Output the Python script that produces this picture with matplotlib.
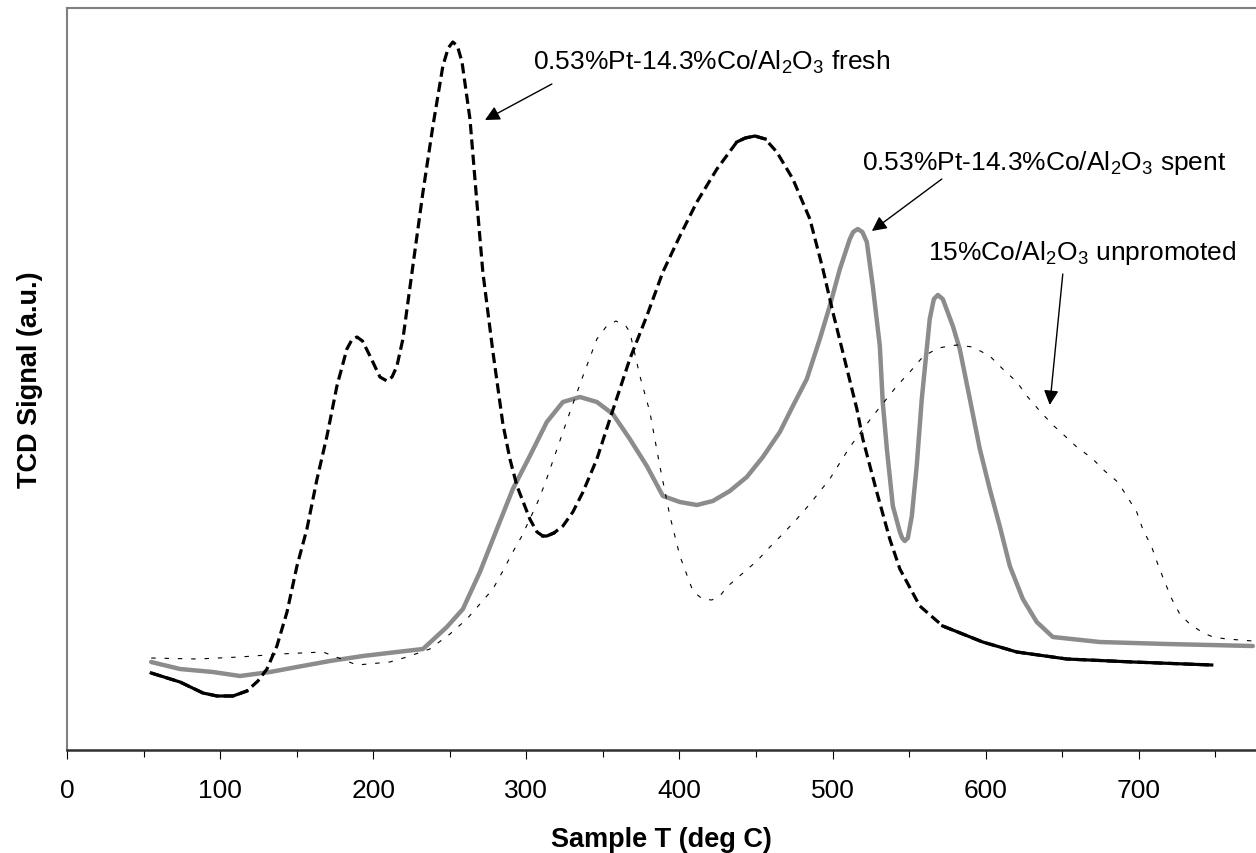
import numpy as np
import matplotlib
matplotlib.use("Agg")
import matplotlib.pyplot as plt
from matplotlib.ticker import MultipleLocator

plt.rcParams['font.family'] = ['Liberation Sans', 'DejaVu Sans']
plt.rcParams['mathtext.fontset'] = 'custom'
plt.rcParams['mathtext.rm'] = 'Liberation Sans'
plt.rcParams['mathtext.it'] = 'Liberation Sans:italic'
plt.rcParams['mathtext.bf'] = 'Liberation Sans:bold'

# ---- data (T in deg C, TCD signal in arbitrary units) ----
fresh_T = [55, 73.8, 88.8, 98, 108.4, 117.5, 124.7, 130.6, 137.1, 143.7, 150.2, 156.7,
           163.3, 169.8, 176.3, 182.8, 186, 189.4, 193, 197.9, 204.4, 209, 212.3,
           215.5, 219.4, 225.9, 232.5, 239, 245.5, 249, 252, 255, 258, 263.2, 267.7,
           271.6, 278.2, 284.7, 289.3, 293.9, 302.3, 307, 310.8, 313.4, 318, 323.9,
           330.4, 337, 346.1, 354.6, 367.6, 378.7, 389.2, 400.3, 411.4, 424.5,
           437.5, 443, 449.3, 456, 463.6, 474.1, 485.2, 493.7, 500.2, 506.7, 515.9,
           519.8, 528.9, 537.4, 544, 557, 572, 598.1, 620.4, 653, 696.1, 747.7]
fresh_S = [77, 68, 57, 54, 54, 59, 69, 81, 104, 138, 184, 221,
           271, 314, 364, 401, 410, 413, 409, 394, 373, 369, 373,
           384, 411, 484, 558, 624, 684, 702, 708, 704, 688, 631, 548,
           478, 398, 326, 291, 264, 231, 218, 214, 214, 217, 224,
           238, 258, 291, 331, 391, 434, 478, 514, 548, 581,
           608, 612, 614, 611, 598, 571, 531, 481, 438, 398, 341,
           311, 258, 211, 181, 144, 124, 108, 98, 91, 88, 85]

spent_T = [55, 73.8, 95.3, 113, 132.6, 150.2, 171.7, 193.3, 215.5, 232.5, 248.1,
           258.6, 269.7, 280.8, 291.2, 302.3, 313.4, 323.9, 335, 346.1, 356.5,
           367.6, 378.7, 389.2, 400.3, 411.4, 421.8, 432.9, 444, 454.5, 465.6,
           474.1, 483.2, 491.7, 498.2, 504.8, 511.3, 513.5, 516.5, 519.5, 522.4,
           526.3, 530.9, 532.8, 535.5, 539.4, 544, 545.5, 547.2, 549.2, 551.8,
           555, 558.3, 563.5, 566.2, 568.8, 572, 578.6, 583.1, 589.7, 596.2,
           602.7, 609.2, 615.8, 624.3, 633.4, 643.9, 674.5, 718.3, 774.5]
spent_S = [88, 81, 78, 74, 78, 83, 89, 94, 98, 101, 123,
           141, 178, 221, 261, 294, 328, 348, 353, 348, 336,
           311, 284, 254, 248, 245, 249, 259, 273, 293, 318,
           344, 371, 411, 444, 481, 511, 518, 521, 518, 508,
           464, 404, 348, 301, 244, 218, 212, 209, 212, 234,
           284, 351, 431, 451, 455, 451, 424, 401, 351, 301,
           261, 224, 184, 151, 128, 113, 108, 106, 104]

unpro_T = [55, 84.9, 113, 139.1, 167.2, 189.4, 210.9, 222, 237, 250.1, 261.2,
           269.7, 278.2, 284.7, 291.2, 297.1, 302.3, 306.9, 312.1, 328.5, 337,
           346.1, 352, 358.5, 365, 367.6, 374.2, 380.7, 387.2, 393.8, 400.3, 408.8,
           415, 421.2, 427, 431, 440.8, 450.6, 459.1, 467.5, 476.7, 485.2, 498.2, 511.3,
           526.3, 534.2, 542, 550.5, 558.9, 568.8, 581.2, 591.6, 602.7, 611.2,
           620.4, 627.5, 635.4, 643.9, 650.4, 659.5, 669.3, 677.8, 686.3, 692.2,
           698.7, 702.6, 708.5, 712.4, 717, 721.6, 726.8, 733.3, 741.2, 748.3,
           757.5, 774.5]
unpro_S = [92, 91, 93, 96, 98, 85, 88, 93, 101, 116, 131,
           146, 161, 179, 198, 214, 231, 246, 266, 338, 374,
           411, 423, 429, 424, 418, 374, 338, 284, 234, 194, 159,
           151, 150, 155, 163, 176, 189, 203, 216, 231, 246, 271, 303,
           334, 349, 364, 378, 393, 402, 405, 403, 394, 381,
           368, 353, 339, 325, 316, 303, 292, 279, 268, 254,
           238, 221, 203, 186, 168, 151, 136, 126, 118, 113,
           111, 109]

x_ticks = [0, 100, 200, 300, 400, 500, 600, 700]

label_fresh = r'0.53%Pt-14.3%Co/Al$_2$O$_3$ fresh'
label_spent = r'0.53%Pt-14.3%Co/Al$_2$O$_3$ spent'
label_unpro = r'15%Co/Al$_2$O$_3$ unpromoted'

# ---- figure ----
fig = plt.figure(figsize=(12.56, 8.54), dpi=100)
ax = fig.add_axes([67/1256, 103/854, 1 - 67/1256, 742/854])
ax.set_xlim(0, 776.6)
ax.set_ylim(0, 742)

ax.plot(spent_T, spent_S, color='#8c8c8c', lw=3.2, solid_joinstyle='round',
        solid_capstyle='round', zorder=2)

fT = np.array(fresh_T, dtype=float)
fS = np.array(fresh_S, dtype=float)
ax.plot(fT, fS, color='black', lw=2.3, linestyle=(0, (3.2, 1.6)), zorder=3)
# solid overlay where the curve is flat (as in the reference rendering)
sx = 1.5314
slope = np.abs(np.gradient(fS, fT * sx))
fS_flat = np.where(slope < 0.9, fS, np.nan)
ax.plot(fT, fS_flat, color='black', lw=2.3, solid_joinstyle='round', zorder=3)

ax.plot(unpro_T, unpro_S, color='black', lw=0.8, linestyle=(0, (4, 8)), zorder=4)

# annotations
fs_ann = 19
ax.text(304.3, 681, label_fresh, fontsize=fs_ann, ha='left', va='baseline')
ax.text(519.1, 581, label_spent, fontsize=fs_ann, ha='left', va='baseline')
ax.text(562.2, 491, label_unpro, fontsize=fs_ann, ha='left', va='baseline')
arrow_kw = dict(arrowstyle='-|>', color='black', lw=1.0, mutation_scale=22,
                shrinkA=0, shrinkB=0)
ax.annotate('', xy=(273, 630), xytext=(316.7, 666), arrowprops=arrow_kw)
ax.annotate('', xy=(525.7, 519), xytext=(571.4, 571), arrowprops=arrow_kw)
ax.annotate('', xy=(641.9, 345), xytext=(650.4, 476), arrowprops=arrow_kw)

# axes styling
ax.spines['right'].set_visible(False)
ax.spines['top'].set_color('#808080')
ax.spines['left'].set_color('#808080')
ax.spines['top'].set_linewidth(1.5)
ax.spines['left'].set_linewidth(1.5)
ax.spines['bottom'].set_color('#303030')
ax.spines['bottom'].set_linewidth(1.8)

ax.set_xticks(x_ticks)
ax.xaxis.set_minor_locator(MultipleLocator(50))
ax.set_yticks([])
ax.tick_params(axis='x', which='major', direction='out', length=6.5, width=0.8,
               labelsize=19, pad=14, colors='black')
ax.tick_params(axis='x', which='minor', direction='out', length=5, width=0.8)

ax.set_xlabel('Sample T (deg C)', fontsize=19.5, fontweight='bold', labelpad=17)
ax.set_ylabel('TCD Signal (a.u.)', fontsize=19.5, fontweight='bold', labelpad=17)

fig.savefig('out.png', dpi=100)
